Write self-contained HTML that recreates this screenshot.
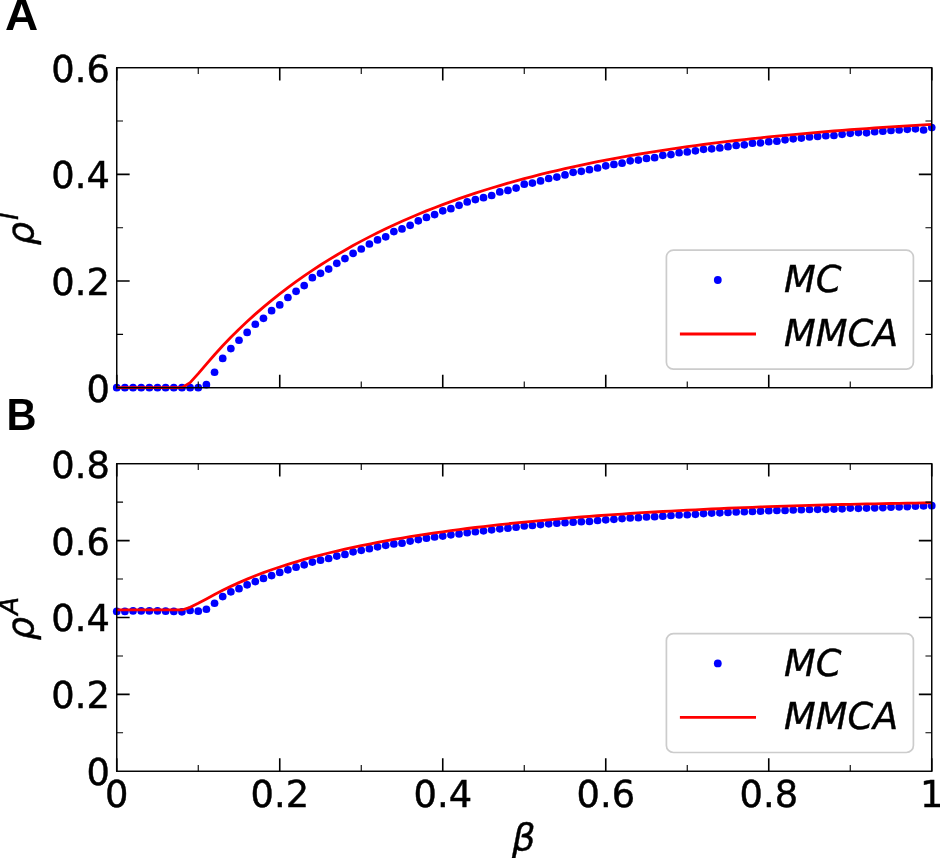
<!DOCTYPE html>
<html lang="en"><head><meta charset="utf-8"><title>MC vs MMCA</title>
<style>
html,body{margin:0;padding:0;background:#fff;}
body{width:940px;height:858px;overflow:hidden;}
svg{display:block;}
text{font-family:"DejaVu Sans","Liberation Sans",sans-serif;fill:#000;}
.tk{font-size:36.8px;stroke:#000;stroke-width:0.45px;}
.it{font-size:36.8px;font-style:italic;stroke:#000;stroke-width:0.4px;}
.pl{font-family:"Liberation Sans",sans-serif;font-size:43.5px;font-weight:bold;}
.sp{fill:none;stroke:#000;stroke-width:1.45;stroke-linejoin:miter;}
.mj{stroke:#000;stroke-width:1.6;fill:none;}
.mn{stroke:#000;stroke-width:1.1;fill:none;}
.dots{fill:#0000ff;}
.ln{fill:none;stroke:#ff0000;stroke-width:2.8;stroke-linejoin:round;stroke-linecap:butt;}
</style></head>
<body>
<svg width="940" height="858" viewBox="0 0 940 858">
<rect width="940" height="858" fill="#fff"/>
<!-- Panel A -->
<g class="dots"><circle cx="116.75" cy="387.72" r="3.85"/><circle cx="124.90" cy="387.72" r="3.85"/><circle cx="133.05" cy="387.72" r="3.85"/><circle cx="141.20" cy="387.72" r="3.85"/><circle cx="149.35" cy="387.72" r="3.85"/><circle cx="157.50" cy="387.72" r="3.85"/><circle cx="165.65" cy="387.72" r="3.85"/><circle cx="173.80" cy="387.72" r="3.85"/><circle cx="181.95" cy="387.72" r="3.85"/><circle cx="190.10" cy="387.72" r="3.85"/><circle cx="198.25" cy="387.72" r="3.85"/><circle cx="206.40" cy="384.70" r="3.85"/><circle cx="214.55" cy="372.27" r="3.85"/><circle cx="222.70" cy="358.42" r="3.85"/><circle cx="230.85" cy="348.62" r="3.85"/><circle cx="239.00" cy="340.26" r="3.85"/><circle cx="247.15" cy="332.38" r="3.85"/><circle cx="255.30" cy="324.26" r="3.85"/><circle cx="263.45" cy="318.28" r="3.85"/><circle cx="271.60" cy="310.64" r="3.85"/><circle cx="279.75" cy="304.91" r="3.85"/><circle cx="287.90" cy="297.50" r="3.85"/><circle cx="296.05" cy="291.29" r="3.85"/><circle cx="304.20" cy="285.56" r="3.85"/><circle cx="312.35" cy="277.67" r="3.85"/><circle cx="320.50" cy="273.37" r="3.85"/><circle cx="328.65" cy="269.07" r="3.85"/><circle cx="336.80" cy="263.33" r="3.85"/><circle cx="344.95" cy="258.56" r="3.85"/><circle cx="353.10" cy="253.30" r="3.85"/><circle cx="361.25" cy="249.00" r="3.85"/><circle cx="369.40" cy="243.98" r="3.85"/><circle cx="377.55" cy="239.92" r="3.85"/><circle cx="385.70" cy="236.82" r="3.85"/><circle cx="393.85" cy="231.56" r="3.85"/><circle cx="402.00" cy="228.93" r="3.85"/><circle cx="410.15" cy="225.35" r="3.85"/><circle cx="418.30" cy="220.81" r="3.85"/><circle cx="426.45" cy="217.47" r="3.85"/><circle cx="434.60" cy="214.60" r="3.85"/><circle cx="442.75" cy="210.78" r="3.85"/><circle cx="450.90" cy="208.63" r="3.85"/><circle cx="459.05" cy="205.28" r="3.85"/><circle cx="467.20" cy="201.94" r="3.85"/><circle cx="475.35" cy="199.55" r="3.85"/><circle cx="483.50" cy="197.64" r="3.85"/><circle cx="491.65" cy="195.49" r="3.85"/><circle cx="499.80" cy="191.91" r="3.85"/><circle cx="507.95" cy="190.47" r="3.85"/><circle cx="516.10" cy="188.08" r="3.85"/><circle cx="524.25" cy="184.22" r="3.85"/><circle cx="532.40" cy="183.03" r="3.85"/><circle cx="540.55" cy="180.88" r="3.85"/><circle cx="548.70" cy="178.49" r="3.85"/><circle cx="556.85" cy="177.06" r="3.85"/><circle cx="565.00" cy="174.91" r="3.85"/><circle cx="573.15" cy="172.28" r="3.85"/><circle cx="581.30" cy="171.32" r="3.85"/><circle cx="589.45" cy="169.65" r="3.85"/><circle cx="597.60" cy="167.98" r="3.85"/><circle cx="605.75" cy="165.83" r="3.85"/><circle cx="613.90" cy="164.40" r="3.85"/><circle cx="622.05" cy="163.20" r="3.85"/><circle cx="630.20" cy="160.81" r="3.85"/><circle cx="638.35" cy="160.10" r="3.85"/><circle cx="646.50" cy="158.42" r="3.85"/><circle cx="654.65" cy="157.71" r="3.85"/><circle cx="662.80" cy="155.32" r="3.85"/><circle cx="670.95" cy="154.60" r="3.85"/><circle cx="679.10" cy="152.69" r="3.85"/><circle cx="687.25" cy="151.97" r="3.85"/><circle cx="695.40" cy="150.78" r="3.85"/><circle cx="703.55" cy="149.35" r="3.85"/><circle cx="711.70" cy="148.87" r="3.85"/><circle cx="719.85" cy="147.91" r="3.85"/><circle cx="728.00" cy="146.72" r="3.85"/><circle cx="736.15" cy="145.52" r="3.85"/><circle cx="744.30" cy="144.81" r="3.85"/><circle cx="752.45" cy="143.13" r="3.85"/><circle cx="760.60" cy="142.90" r="3.85"/><circle cx="768.75" cy="141.70" r="3.85"/><circle cx="776.90" cy="141.22" r="3.85"/><circle cx="785.05" cy="139.79" r="3.85"/><circle cx="793.20" cy="138.83" r="3.85"/><circle cx="801.35" cy="138.12" r="3.85"/><circle cx="809.50" cy="136.92" r="3.85"/><circle cx="817.65" cy="136.45" r="3.85"/><circle cx="825.80" cy="135.73" r="3.85"/><circle cx="833.95" cy="135.49" r="3.85"/><circle cx="842.10" cy="134.30" r="3.85"/><circle cx="850.25" cy="133.34" r="3.85"/><circle cx="858.40" cy="132.62" r="3.85"/><circle cx="866.55" cy="132.86" r="3.85"/><circle cx="874.70" cy="131.67" r="3.85"/><circle cx="882.85" cy="131.19" r="3.85"/><circle cx="891.00" cy="130.47" r="3.85"/><circle cx="899.15" cy="130.00" r="3.85"/><circle cx="907.30" cy="129.28" r="3.85"/><circle cx="915.45" cy="128.80" r="3.85"/><circle cx="923.60" cy="130.00" r="3.85"/><circle cx="931.75" cy="127.61" r="3.85"/></g>
<path class="ln" d="M116.75,387.72 L124.90,387.72 L133.05,387.72 L141.20,387.72 L149.35,387.72 L157.50,387.72 L165.65,387.72 L173.80,387.72 L181.95,387.72 L190.10,382.66 L198.25,373.65 L206.40,364.06 L214.55,354.72 L222.70,345.79 L230.85,337.30 L239.00,329.22 L247.15,321.51 L255.30,314.14 L263.45,307.09 L271.60,300.33 L279.75,293.85 L287.90,287.62 L296.05,281.64 L304.20,275.88 L312.35,270.34 L320.50,265.01 L328.65,259.88 L336.80,254.93 L344.95,250.17 L353.10,245.57 L361.25,241.14 L369.40,236.87 L377.55,232.75 L385.70,228.78 L393.85,224.95 L402.00,221.25 L410.15,217.67 L418.30,214.22 L426.45,210.89 L434.60,207.68 L442.75,204.57 L450.90,201.57 L459.05,198.67 L467.20,195.86 L475.35,193.16 L483.50,190.54 L491.65,188.01 L499.80,185.56 L507.95,183.19 L516.10,180.90 L524.25,178.69 L532.40,176.55 L540.55,174.47 L548.70,172.47 L556.85,170.53 L565.00,168.65 L573.15,166.84 L581.30,165.08 L589.45,163.38 L597.60,161.73 L605.75,160.14 L613.90,158.59 L622.05,157.10 L630.20,155.65 L638.35,154.25 L646.50,152.89 L654.65,151.58 L662.80,150.30 L670.95,149.07 L679.10,147.88 L687.25,146.72 L695.40,145.60 L703.55,144.51 L711.70,143.46 L719.85,142.43 L728.00,141.45 L736.15,140.49 L744.30,139.56 L752.45,138.66 L760.60,137.78 L768.75,136.94 L776.90,136.11 L785.05,135.32 L793.20,134.55 L801.35,133.80 L809.50,133.07 L817.65,132.37 L825.80,131.68 L833.95,131.02 L842.10,130.38 L850.25,129.75 L858.40,129.14 L866.55,128.55 L874.70,127.98 L882.85,127.43 L891.00,126.89 L899.15,126.36 L907.30,125.86 L915.45,125.36 L923.60,124.88 L931.75,124.41"/>
<path class="mj" d="M116.75,387.72v-12.9 M116.75,67.72v12.9"/><path class="mn" d="M198.25,387.72v-6.3 M198.25,67.72v6.3"/><path class="mj" d="M279.75,387.72v-12.9 M279.75,67.72v12.9"/><path class="mn" d="M361.25,387.72v-6.3 M361.25,67.72v6.3"/><path class="mj" d="M442.75,387.72v-12.9 M442.75,67.72v12.9"/><path class="mn" d="M524.25,387.72v-6.3 M524.25,67.72v6.3"/><path class="mj" d="M605.75,387.72v-12.9 M605.75,67.72v12.9"/><path class="mn" d="M687.25,387.72v-6.3 M687.25,67.72v6.3"/><path class="mj" d="M768.75,387.72v-12.9 M768.75,67.72v12.9"/><path class="mn" d="M850.25,387.72v-6.3 M850.25,67.72v6.3"/><path class="mj" d="M931.75,387.72v-12.9 M931.75,67.72v12.9"/><path class="mj" d="M116.75,281.05h12.9 M931.75,281.05h-12.9"/><path class="mj" d="M116.75,174.39h12.9 M931.75,174.39h-12.9"/><path class="mn" d="M116.75,334.39h6.3 M931.75,334.39h-6.3"/><path class="mn" d="M116.75,227.72h6.3 M931.75,227.72h-6.3"/><path class="mn" d="M116.75,121.05h6.3 M931.75,121.05h-6.3"/>
<rect class="sp" x="116.75" y="67.72" width="815.0" height="320.00"/>
<rect x="666.4" y="250.2" width="247.0" height="119.0" rx="7" ry="7" fill="#fff" fill-opacity="0.8" stroke="#ccc" stroke-width="1.7"/>
<circle cx="717.8" cy="280.0" r="3.9" fill="#0000ff"/>
<path d="M679.9,334.0H756" stroke="#ff0000" stroke-width="2.8" fill="none"/>
<text class="it" x="783.9" y="292.1">MC</text>
<text class="it" x="783.9" y="345.7">MMCA</text>
<text class="tk" text-anchor="end" x="109.85" y="82.17">0.6</text><text class="tk" text-anchor="end" x="109.85" y="188.34">0.4</text><text class="tk" text-anchor="end" x="109.85" y="295.05">0.2</text><text class="tk" text-anchor="end" x="109.85" y="401.82">0</text>
<text class="pl" transform="translate(5.0,29.9) scale(1.058,1)">A</text>
<g transform="translate(32.8,245.3) rotate(-90)"><text class="it" x="0" y="0">ρ<tspan dx="2" dy="-14.4" font-size="26">I</tspan></text></g>
<!-- Panel B -->
<g class="dots"><circle cx="116.75" cy="611.39" r="3.85"/><circle cx="124.90" cy="611.39" r="3.85"/><circle cx="133.05" cy="610.91" r="3.85"/><circle cx="141.20" cy="610.91" r="3.85"/><circle cx="149.35" cy="610.91" r="3.85"/><circle cx="157.50" cy="610.91" r="3.85"/><circle cx="165.65" cy="611.15" r="3.85"/><circle cx="173.80" cy="611.39" r="3.85"/><circle cx="181.95" cy="611.87" r="3.85"/><circle cx="190.10" cy="610.43" r="3.85"/><circle cx="198.25" cy="611.15" r="3.85"/><circle cx="206.40" cy="609.24" r="3.85"/><circle cx="214.55" cy="603.27" r="3.85"/><circle cx="222.70" cy="596.58" r="3.85"/><circle cx="230.85" cy="591.80" r="3.85"/><circle cx="239.00" cy="588.70" r="3.85"/><circle cx="247.15" cy="584.87" r="3.85"/><circle cx="255.30" cy="581.53" r="3.85"/><circle cx="263.45" cy="578.42" r="3.85"/><circle cx="271.60" cy="575.56" r="3.85"/><circle cx="279.75" cy="572.45" r="3.85"/><circle cx="287.90" cy="569.82" r="3.85"/><circle cx="296.05" cy="567.20" r="3.85"/><circle cx="304.20" cy="564.81" r="3.85"/><circle cx="312.35" cy="562.07" r="3.85"/><circle cx="320.50" cy="560.16" r="3.85"/><circle cx="328.65" cy="558.49" r="3.85"/><circle cx="336.80" cy="556.10" r="3.85"/><circle cx="344.95" cy="554.43" r="3.85"/><circle cx="353.10" cy="551.80" r="3.85"/><circle cx="361.25" cy="550.37" r="3.85"/><circle cx="369.40" cy="548.70" r="3.85"/><circle cx="377.55" cy="546.78" r="3.85"/><circle cx="385.70" cy="545.35" r="3.85"/><circle cx="393.85" cy="543.92" r="3.85"/><circle cx="402.00" cy="543.20" r="3.85"/><circle cx="410.15" cy="541.05" r="3.85"/><circle cx="418.30" cy="539.62" r="3.85"/><circle cx="426.45" cy="538.18" r="3.85"/><circle cx="434.60" cy="536.99" r="3.85"/><circle cx="442.75" cy="536.03" r="3.85"/><circle cx="450.90" cy="534.84" r="3.85"/><circle cx="459.05" cy="533.88" r="3.85"/><circle cx="467.20" cy="532.69" r="3.85"/><circle cx="475.35" cy="531.73" r="3.85"/><circle cx="483.50" cy="530.78" r="3.85"/><circle cx="491.65" cy="529.82" r="3.85"/><circle cx="499.80" cy="528.87" r="3.85"/><circle cx="507.95" cy="528.15" r="3.85"/><circle cx="516.10" cy="527.20" r="3.85"/><circle cx="524.25" cy="526.00" r="3.85"/><circle cx="532.40" cy="525.52" r="3.85"/><circle cx="540.55" cy="524.57" r="3.85"/><circle cx="548.70" cy="523.85" r="3.85"/><circle cx="556.85" cy="523.13" r="3.85"/><circle cx="565.00" cy="522.66" r="3.85"/><circle cx="573.15" cy="522.18" r="3.85"/><circle cx="581.30" cy="521.70" r="3.85"/><circle cx="589.45" cy="521.46" r="3.85"/><circle cx="597.60" cy="520.51" r="3.85"/><circle cx="605.75" cy="519.79" r="3.85"/><circle cx="613.90" cy="519.31" r="3.85"/><circle cx="622.05" cy="518.60" r="3.85"/><circle cx="630.20" cy="517.88" r="3.85"/><circle cx="638.35" cy="517.64" r="3.85"/><circle cx="646.50" cy="516.92" r="3.85"/><circle cx="654.65" cy="516.68" r="3.85"/><circle cx="662.80" cy="516.21" r="3.85"/><circle cx="670.95" cy="515.49" r="3.85"/><circle cx="679.10" cy="515.01" r="3.85"/><circle cx="687.25" cy="514.77" r="3.85"/><circle cx="695.40" cy="514.30" r="3.85"/><circle cx="703.55" cy="513.58" r="3.85"/><circle cx="711.70" cy="513.10" r="3.85"/><circle cx="719.85" cy="512.86" r="3.85"/><circle cx="728.00" cy="512.38" r="3.85"/><circle cx="736.15" cy="511.91" r="3.85"/><circle cx="744.30" cy="511.67" r="3.85"/><circle cx="752.45" cy="511.43" r="3.85"/><circle cx="760.60" cy="511.19" r="3.85"/><circle cx="768.75" cy="510.71" r="3.85"/><circle cx="776.90" cy="510.47" r="3.85"/><circle cx="785.05" cy="510.47" r="3.85"/><circle cx="793.20" cy="510.00" r="3.85"/><circle cx="801.35" cy="509.76" r="3.85"/><circle cx="809.50" cy="509.52" r="3.85"/><circle cx="817.65" cy="509.28" r="3.85"/><circle cx="825.80" cy="509.28" r="3.85"/><circle cx="833.95" cy="509.04" r="3.85"/><circle cx="842.10" cy="508.80" r="3.85"/><circle cx="850.25" cy="508.08" r="3.85"/><circle cx="858.40" cy="508.32" r="3.85"/><circle cx="866.55" cy="508.08" r="3.85"/><circle cx="874.70" cy="507.85" r="3.85"/><circle cx="882.85" cy="507.61" r="3.85"/><circle cx="891.00" cy="507.13" r="3.85"/><circle cx="899.15" cy="506.89" r="3.85"/><circle cx="907.30" cy="506.65" r="3.85"/><circle cx="915.45" cy="506.17" r="3.85"/><circle cx="923.60" cy="505.93" r="3.85"/><circle cx="931.75" cy="505.70" r="3.85"/></g>
<path class="ln" d="M116.75,609.96 L124.90,609.96 L133.05,609.96 L141.20,609.96 L149.35,609.96 L157.50,609.96 L165.65,609.96 L173.80,609.96 L181.95,609.96 L190.10,607.37 L198.25,603.31 L206.40,598.91 L214.55,594.53 L222.70,590.34 L230.85,586.37 L239.00,582.63 L247.15,579.11 L255.30,575.80 L263.45,572.68 L271.60,569.74 L279.75,566.96 L287.90,564.32 L296.05,561.83 L304.20,559.45 L312.35,557.20 L320.50,555.05 L328.65,553.00 L336.80,551.04 L344.95,549.17 L353.10,547.38 L361.25,545.66 L369.40,544.01 L377.55,542.43 L385.70,540.91 L393.85,539.45 L402.00,538.05 L410.15,536.70 L418.30,535.40 L426.45,534.14 L434.60,532.93 L442.75,531.77 L450.90,530.64 L459.05,529.56 L467.20,528.51 L475.35,527.50 L483.50,526.52 L491.65,525.57 L499.80,524.66 L507.95,523.77 L516.10,522.92 L524.25,522.09 L532.40,521.29 L540.55,520.52 L548.70,519.77 L556.85,519.05 L565.00,518.34 L573.15,517.67 L581.30,517.01 L589.45,516.37 L597.60,515.76 L605.75,515.16 L613.90,514.59 L622.05,514.03 L630.20,513.49 L638.35,512.97 L646.50,512.47 L654.65,511.98 L662.80,511.51 L670.95,511.05 L679.10,510.61 L687.25,510.19 L695.40,509.78 L703.55,509.38 L711.70,509.00 L719.85,508.63 L728.00,508.27 L736.15,507.93 L744.30,507.60 L752.45,507.28 L760.60,506.97 L768.75,506.68 L776.90,506.39 L785.05,506.12 L793.20,505.86 L801.35,505.61 L809.50,505.37 L817.65,505.14 L825.80,504.92 L833.95,504.70 L842.10,504.50 L850.25,504.31 L858.40,504.13 L866.55,503.95 L874.70,503.79 L882.85,503.63 L891.00,503.48 L899.15,503.34 L907.30,503.21 L915.45,503.09 L923.60,502.97 L931.75,502.86"/>
<path class="mj" d="M116.75,771.25v-12.9 M116.75,463.72v12.9"/><path class="mn" d="M198.25,771.25v-6.3 M198.25,463.72v6.3"/><path class="mj" d="M279.75,771.25v-12.9 M279.75,463.72v12.9"/><path class="mn" d="M361.25,771.25v-6.3 M361.25,463.72v6.3"/><path class="mj" d="M442.75,771.25v-12.9 M442.75,463.72v12.9"/><path class="mn" d="M524.25,771.25v-6.3 M524.25,463.72v6.3"/><path class="mj" d="M605.75,771.25v-12.9 M605.75,463.72v12.9"/><path class="mn" d="M687.25,771.25v-6.3 M687.25,463.72v6.3"/><path class="mj" d="M768.75,771.25v-12.9 M768.75,463.72v12.9"/><path class="mn" d="M850.25,771.25v-6.3 M850.25,463.72v6.3"/><path class="mj" d="M931.75,771.25v-12.9 M931.75,463.72v12.9"/><path class="mj" d="M116.75,694.37h12.9 M931.75,694.37h-12.9"/><path class="mj" d="M116.75,617.49h12.9 M931.75,617.49h-12.9"/><path class="mj" d="M116.75,540.60h12.9 M931.75,540.60h-12.9"/><path class="mn" d="M116.75,732.81h6.3 M931.75,732.81h-6.3"/><path class="mn" d="M116.75,655.93h6.3 M931.75,655.93h-6.3"/><path class="mn" d="M116.75,579.04h6.3 M931.75,579.04h-6.3"/><path class="mn" d="M116.75,502.16h6.3 M931.75,502.16h-6.3"/>
<rect class="sp" x="116.75" y="463.72" width="815.0" height="307.53"/>
<rect x="666.4" y="633.6" width="247.0" height="118.89999999999998" rx="7" ry="7" fill="#fff" fill-opacity="0.8" stroke="#ccc" stroke-width="1.7"/>
<circle cx="717.8" cy="663.4" r="3.9" fill="#0000ff"/>
<path d="M679.9,717.4H756" stroke="#ff0000" stroke-width="2.8" fill="none"/>
<text class="it" x="783.9" y="675.5">MC</text>
<text class="it" x="783.9" y="729.1">MMCA</text>
<text class="tk" text-anchor="end" x="109.85" y="477.82">0.8</text><text class="tk" text-anchor="end" x="109.85" y="554.50">0.6</text><text class="tk" text-anchor="end" x="109.85" y="631.19">0.4</text><text class="tk" text-anchor="end" x="109.85" y="707.92">0.2</text><text class="tk" text-anchor="end" x="109.85" y="784.65">0</text>
<text class="pl" transform="translate(6.5,430.0) scale(0.954,1)">B</text>
<g transform="translate(32.8,640.2) rotate(-90)"><text class="it" x="0" y="0">ρ<tspan dx="2" dy="-14.4" font-size="26">A</tspan></text></g>
<!-- x tick labels -->
<g class="tk" text-anchor="middle">
<text x="116.8" y="806.5">0</text>
<text x="279.8" y="806.5">0.2</text>
<text x="442.8" y="806.5">0.4</text>
<text x="605.8" y="806.5">0.6</text>
<text x="768.8" y="806.5">0.8</text>
<text x="931.8" y="806.5">1</text>
</g>
<text class="it" text-anchor="middle" x="523.8" y="849.6">β</text>
</svg>
</body></html>
